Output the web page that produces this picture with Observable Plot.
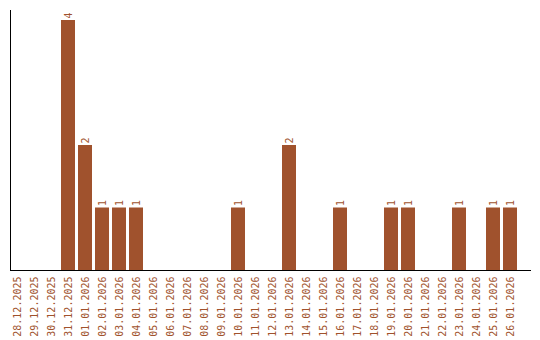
<!DOCTYPE html>
<html>
<head>
<meta charset="utf-8">
<script src="https://cdn.jsdelivr.net/npm/d3@7"></script>
<script src="https://cdn.jsdelivr.net/npm/@observablehq/plot@0.6"></script>
<style>
  html, body { margin: 0; padding: 0; background: #fff; }
  svg { display: block; }
</style>
</head>
<body>
<div id="chart"></div>
<script>
const dates = [
  "28.12.2025","29.12.2025","30.12.2025","31.12.2025","01.01.2026","02.01.2026",
  "03.01.2026","04.01.2026","05.01.2026","06.01.2026","07.01.2026","08.01.2026",
  "09.01.2026","10.01.2026","11.01.2026","12.01.2026","13.01.2026","14.01.2026",
  "15.01.2026","16.01.2026","17.01.2026","18.01.2026","19.01.2026","20.01.2026",
  "21.01.2026","22.01.2026","23.01.2026","24.01.2026","25.01.2026","26.01.2026"
];
const counts = [
  0,0,0,4,2,1,
  1,1,0,0,0,0,
  0,1,0,0,2,0,
  0,1,0,0,1,1,
  0,0,1,0,1,1
];
const data = dates.map((d, i) => ({date: d, value: counts[i]}));
const color = "#a0522d";
const mono = "DejaVu Sans Mono";

const chart = Plot.plot({
  width: 540,
  height: 340,
  marginTop: 10,
  marginBottom: 70,
  marginLeft: 10,
  marginRight: 10,
  x: {domain: dates, range: [8.5, 518.5], paddingInner: 0.18, paddingOuter: 0.09, label: null},
  y: {domain: [0, 4.16], axis: null},
  marks: [
    Plot.barY(data, {x: "date", y: "value", fill: color}),
    Plot.text(data.filter(d => d.value > 0), {
      x: "date", y: "value", text: d => String(d.value),
      rotate: -90, textAnchor: "start", dx: 0, dy: -2,
      fill: color, fontFamily: mono, fontSize: 10
    }),
    Plot.axisX({tickRotate: -90, tickSize: 0, tickPadding: 6, fontFamily: mono, fontSize: 10, fill: color, label: null}),
    Plot.frame({anchor: "left", stroke: "#000"}),
    Plot.frame({anchor: "bottom", stroke: "#000"})
  ]
});
document.getElementById("chart").appendChild(chart);
</script>
</body>
</html>
